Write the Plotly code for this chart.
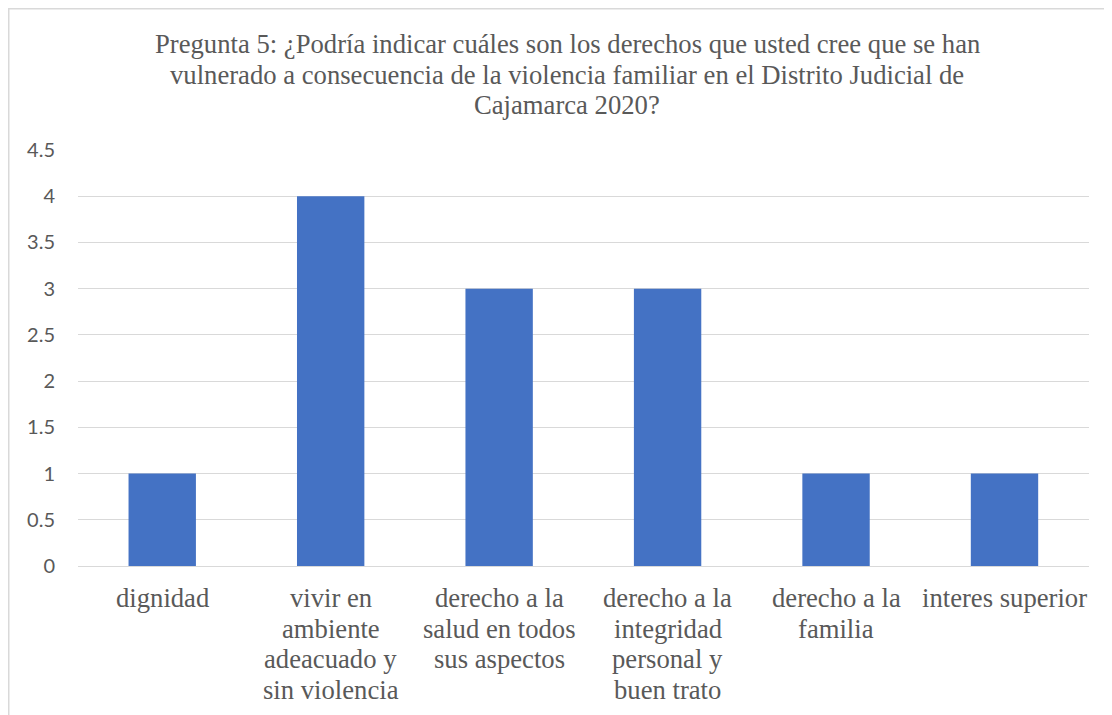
import plotly.graph_objects as go

# data
category_lines = [
    ["dignidad"],
    ["vivir en", "ambiente", "adeacuado y", "sin violencia"],
    ["derecho a la", "salud en todos", "sus aspectos"],
    ["derecho a la", "integridad", "personal y", "buen trato"],
    ["derecho a la", "familia"],
    ["interes superior"],
]
categories = [" ".join(c) for c in category_lines]
values = [1, 4, 3, 3, 1, 1]
y_ticks = [0, 0.5, 1, 1.5, 2, 2.5, 3, 3.5, 4, 4.5]
y_tick_labels = ["0", "0.5", "1", "1.5", "2", "2.5", "3", "3.5", "4", "4.5"]
title_lines = [
    "Pregunta 5: ¿Podría indicar cuáles son los derechos que usted cree que se han",
    "vulnerado a consecuencia de la violencia familiar en el Distrito Judicial de",
    "Cajamarca 2020?",
]

grey_text = "#595959"
grid = "#d9d9d9"
serif = "Liberation Serif, Times New Roman, serif"
big = 26.67   # 20pt
line_h = 30.7

# page has an 8px body margin, so the figure is 8px smaller and shifted
W, H = 1104, 707
L, R, T, B = 70, 23, 142, 149
pw, ph = W - L - R, H - T - B


def py(pix):
    # figure pixel (from top) -> paper y
    return (H - B - pix) / ph


def px(pix):
    return (pix - L) / pw


fig = go.Figure(data=go.Bar(x=categories, y=values, marker_color="#4472c4",
                            marker_line_width=0, width=0.4))

annotations = []
# title, one annotation per line to get Word-like line spacing
for i, t in enumerate(title_lines):
    annotations.append(dict(text=t, xref="paper", yref="paper", x=px(559), y=py(44 + i * line_h - 8),
                            xanchor="center", yanchor="middle", showarrow=False,
                            font=dict(family=serif, size=big, color=grey_text)))
# category labels
for cat, lines in zip(categories, category_lines):
    for i, t in enumerate(lines):
        annotations.append(dict(text=t, xref="x", yref="paper", x=cat, y=py(598 + i * line_h - 8),
                                xanchor="center", yanchor="middle", showarrow=False,
                                font=dict(family=serif, size=big, color=grey_text)))

fig.update_layout(
    width=W, height=H,
    margin=dict(l=L, r=R, t=T, b=B, autoexpand=False),
    plot_bgcolor="white", paper_bgcolor="white",
    showlegend=False,
    xaxis=dict(showgrid=False, showline=True, linecolor=grid, linewidth=1, ticks="",
               showticklabels=False, automargin=False),
    yaxis=dict(range=[0, 4.5], tickvals=y_ticks, ticktext=y_tick_labels,
               showgrid=True, gridcolor=grid, gridwidth=1, zeroline=False, showline=False,
               ticks="", ticklabelstandoff=22,
               tickfont=dict(family="Lato", size=20, color=grey_text), automargin=False),
    annotations=annotations,
    shapes=[dict(type="rect", xref="paper", yref="paper",
                 x0=px(0.75), x1=1.2, y0=-0.6, y1=py(0.75),
                 line=dict(color=grid, width=1.5), fillcolor="rgba(0,0,0,0)", layer="below")],
)

fig.write_html("out.html")
